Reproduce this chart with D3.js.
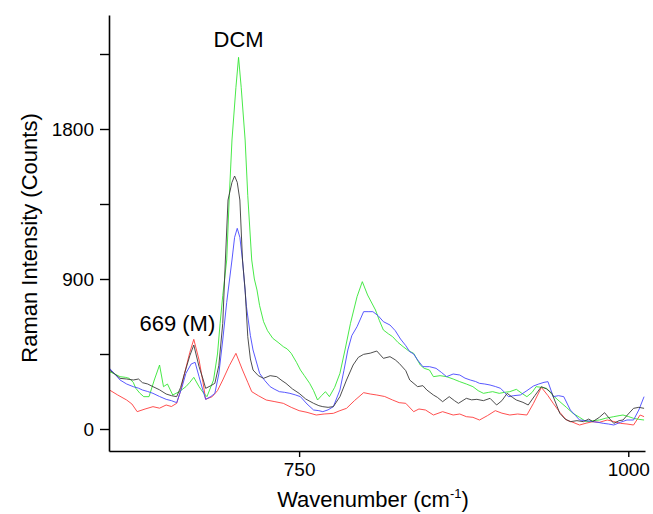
<!DOCTYPE html>
<html>
<head>
<meta charset="utf-8">
<script src="https://cdn.jsdelivr.net/npm/d3@7"></script>
<style>
  body { margin: 0; background: #fff; }
  text { font-family: "Liberation Sans", Arial, sans-serif; fill: #000; }
</style>
</head>
<body>
<div id="drawing_region"></div>
<script>
// Raman spectra, [wavenumber, counts]
const redSeries = [[606,234],[612,205],[619,174],[623,150],[627,104],[633,120],[639,134],[644,125],[649,144],[653,135],[657,154],[660,230],[663,334],[667,460],[670,538],[674,414],[677,280],[679,178],[684,194],[688,230],[692,294],[697,380],[702,454],[707,354],[711,280],[714,224],[719,200],[725,174],[731,165],[738,154],[744,130],[750,110],[756,100],[763,84],[769,90],[776,94],[781,110],[786,124],[792,170],[799,218],[804,210],[809,204],[815,195],[821,174],[826,158],[831,154],[837,104],[841,120],[846,114],[852,84],[859,104],[867,84],[872,90],[877,74],[882,70],[887,54],[893,80],[899,110],[904,95],[910,84],[916,90],[923,84],[928,154],[934,250],[939,200],[943,154],[948,100],[953,54],[958,40],[963,24],[968,35],[973,44],[978,40],[984,54],[989,45],[994,34],[999,30],[1004,24],[1009,84],[1012,74]];

const blackSeries = [[606,354],[610,330],[614,304],[619,300],[624,294],[628,300],[631,278],[635,270],[639,254],[644,235],[649,210],[653,200],[657,194],[660,250],[663,334],[667,440],[670,504],[674,374],[677,300],[679,244],[683,260],[686,274],[689,380],[692,634],[694,1014],[696,1374],[699,1480],[701,1518],[703,1480],[705,1374],[707,1014],[709,834],[711,554],[713,420],[715,354],[719,320],[723,304],[728,320],[733,314],[737,290],[740,274],[745,240],[750,214],[755,180],[761,154],[765,140],[768,134],[772,130],[776,134],[781,194],[786,294],[791,384],[795,430],[799,448],[804,455],[809,468],[814,424],[819,434],[823,415],[826,394],[831,350],[834,294],[840,254],[844,260],[847,234],[852,204],[855,190],[859,164],[864,194],[868,170],[871,154],[877,184],[881,175],[885,178],[890,170],[895,184],[900,144],[904,170],[908,214],[912,190],[915,174],[920,160],[924,144],[929,200],[934,254],[938,240],[942,214],[948,94],[952,60],[956,44],[961,50],[966,44],[970,60],[973,44],[978,70],[982,98],[986,60],[989,34],[993,50],[996,54],[1000,90],[1004,124],[1008,130],[1012,124]];

const blueSeries = [[606,364],[610,330],[614,294],[619,270],[624,254],[628,245],[631,234],[635,225],[639,214],[644,195],[649,178],[653,170],[657,158],[661,250],[664,334],[668,390],[671,400],[674,314],[677,230],[679,178],[683,195],[686,214],[689,330],[692,534],[695,760],[699,1014],[701,1150],[703,1204],[705,1150],[707,1014],[710,734],[713,560],[715,474],[720,334],[724,290],[728,254],[731,240],[735,224],[739,220],[743,214],[747,205],[751,194],[756,150],[761,114],[765,110],[768,104],[772,115],[776,134],[781,234],[784,350],[787,474],[790,560],[794,614],[799,704],[803,704],[806,704],[810,680],[814,644],[819,624],[823,590],[827,540],[831,500],[834,464],[837,450],[840,414],[844,374],[849,374],[854,364],[858,340],[862,314],[867,330],[872,324],[876,305],[880,294],[884,285],[887,274],[891,270],[895,264],[899,255],[903,244],[906,220],[909,194],[913,200],[918,204],[923,230],[928,258],[932,270],[936,280],[939,284],[943,194],[947,200],[951,194],[956,114],[960,80],[963,54],[968,50],[973,44],[977,40],[981,34],[985,30],[989,24],[994,40],[999,54],[1004,54],[1008,114],[1012,194]];

const greenSeries = [[606,344],[610,330],[614,314],[618,310],[621,304],[624,280],[626,244],[629,215],[632,194],[636,194],[640,294],[644,384],[647,254],[650,270],[654,204],[659,224],[664,254],[667,280],[670,310],[674,254],[677,220],[680,194],[685,294],[688,450],[690,634],[692,800],[695,1014],[697,1400],[699,1734],[702,2050],[704,2230],[706,2050],[709,1734],[711,1400],[714,1014],[716,900],[718,834],[720,740],[723,644],[726,590],[730,544],[734,520],[738,494],[741,480],[744,454],[748,400],[751,354],[754,320],[758,274],[761,230],[764,174],[767,200],[770,224],[773,194],[777,250],[781,334],[785,480],[789,634],[794,794],[798,884],[802,804],[808,714],[811,650],[814,594],[818,570],[821,554],[825,520],[829,494],[833,470],[837,454],[842,384],[845,364],[849,354],[852,314],[857,320],[862,314],[867,300],[872,284],[877,270],[882,254],[886,230],[890,214],[894,220],[897,224],[902,214],[906,220],[910,224],[915,238],[919,215],[923,194],[927,220],[930,254],[934,250],[938,244],[943,200],[948,164],[953,130],[958,94],[963,70],[968,44],[973,50],[978,54],[983,65],[989,74],[993,80],[996,84],[1000,75],[1004,64],[1008,58],[1012,54]];

const xTicks = [750, 1000];
const yTicks = [0, 450, 900, 1350, 1800, 2250];
const yLabels = [0, 900, 1800];

const annotations = [
    { text: "DCM", w: 704, v: 2290 },
    { text: "669 (M)", w: 657.5, v: 588 }
];

const config = {
    width: 653,
    height: 514,
    margin: { top: 15, right: 8, bottom: 63, left: 109 }
};

const svg = d3.select('#drawing_region')
    .append('svg')
    .attr('width', config.width)
    .attr('height', config.height);

const inner_width = config.width - config.margin.left - config.margin.right;
const inner_height = config.height - config.margin.top - config.margin.bottom;

const chart = svg.append('g')
    .attr('transform', `translate(${config.margin.left}, ${config.margin.top})`);

const xscale = d3.scaleLinear()
    .domain([605.6, 1012.7])
    .range([0, inner_width]);

const yscale = d3.scaleLinear()
    .domain([-132, 2484])
    .range([inner_height, 0]);

// series lines
const line = d3.line()
    .x(d => xscale(d[0]))
    .y(d => yscale(d[1]));

const series = [
    { data: redSeries, color: '#ff3b3b' },
    { data: greenSeries, color: '#33e633' },
    { data: blueSeries, color: '#4646ff' },
    { data: blackSeries, color: '#3a3a3a' }
];

chart.selectAll('path.series')
    .data(series)
    .join('path')
    .attr('class', 'series')
    .attr('fill', 'none')
    .attr('stroke', d => d.color)
    .attr('stroke-width', 0.9)
    .attr('stroke-linejoin', 'round')
    .attr('d', d => line(d.data));

// axes
const xaxis = d3.axisBottom(xscale)
    .tickValues(xTicks)
    .tickFormat(d3.format('d'))
    .tickSize(6)
    .tickSizeOuter(0)
    .tickPadding(6);

const yaxis = d3.axisLeft(yscale)
    .tickValues(yTicks)
    .tickFormat(d => yLabels.includes(d) ? d : '')
    .tickSize(9)
    .tickSizeOuter(0)
    .tickPadding(6);

const xaxis_group = chart.append('g')
    .attr('transform', `translate(0, ${inner_height})`)
    .call(xaxis);

const yaxis_group = chart.append('g')
    .call(yaxis);

[xaxis_group, yaxis_group].forEach(g => {
    g.selectAll('path.domain').attr('stroke', '#000').attr('stroke-width', 1.6);
    g.selectAll('line').attr('stroke', '#000').attr('stroke-width', 1.4);
    g.selectAll('text')
        .attr('font-family', '"Liberation Sans", Arial, sans-serif')
        .attr('font-size', 19)
        .attr('fill', '#000');
});

// annotations
chart.selectAll('text.note')
    .data(annotations)
    .join('text')
    .attr('class', 'note')
    .attr('x', d => xscale(d.w))
    .attr('y', d => yscale(d.v))
    .attr('text-anchor', 'middle')
    .attr('font-size', 22)
    .text(d => d.text);

// axis titles
const xtitle = svg.append('text')
    .attr('x', 373)
    .attr('y', 507)
    .attr('text-anchor', 'middle')
    .attr('font-size', 22);
xtitle.append('tspan').text('Wavenumber (cm');
xtitle.append('tspan').attr('font-size', 13).attr('dy', -9).text('-1');
xtitle.append('tspan').attr('dy', 9).text(')');

svg.append('text')
    .attr('transform', 'translate(37, 238) rotate(-90)')
    .attr('text-anchor', 'middle')
    .attr('font-size', 22)
    .text('Raman Intensity (Counts)');
</script>
</body>
</html>
